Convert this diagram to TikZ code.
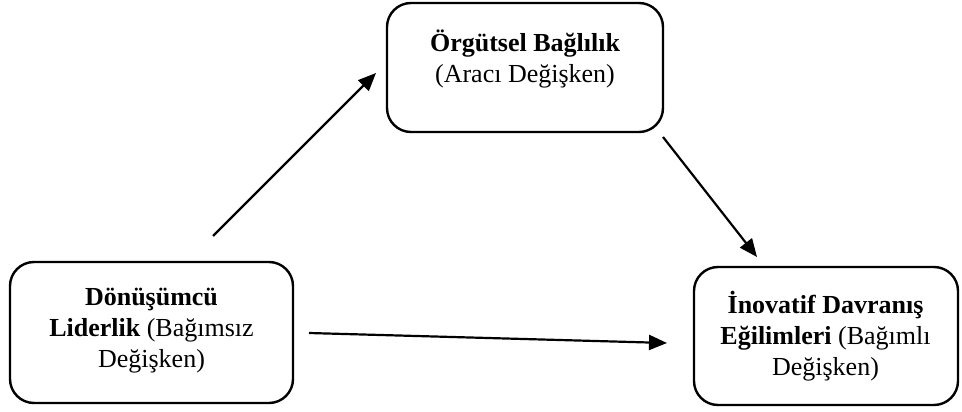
\documentclass[tikz,border=0pt]{standalone}
\usepackage{fontspec}
\setmainfont{Liberation Serif}
\usetikzlibrary{arrows.meta}
\begin{document}
\begin{tikzpicture}[x=1pt,y=-1pt,
  box/.style={draw,line width=2.4pt,rounded corners=24pt,inner sep=0pt},
  lbl/.style={align=center,inner sep=0pt,anchor=base,font=\fontsize{26}{31}\selectfont},
  conn/.style={line width=2.2pt,-{Triangle[length=18pt,width=15pt]}}]
\useasboundingbox (0,0) rectangle (962,412);
% boxes
\node[box,minimum width=276pt,minimum height=129pt] (top) at (525,67.5) {};
\node[box,minimum width=283pt,minimum height=141pt] (left) at (151.5,332.5) {};
\node[box,minimum width=264pt,minimum height=138pt] (right) at (826,336) {};
% texts (anchored at the baseline of the last line)
\node[lbl] (toptext) at (525,82)
  {\textbf{Örgütsel Bağlılık}\\(Aracı Değişken)};
\node[lbl] (lefttext) at (151.5,367)
  {\textbf{Dönüşümcü}\\\textbf{Liderlik} (Bağımsız\\Değişken)};
\node[lbl] (righttext) at (825.5,375)
  {\textbf{İnovatif Davranış}\\\textbf{Eğilimleri} (Bağımlı\\Değişken)};
% connector ends
\coordinate (a1s) at (213,236);
\coordinate (a1e) at (376,73);
\coordinate (a2s) at (663,137);
\coordinate (a2e) at (757,257);
\coordinate (a3s) at (309,333);
\coordinate (a3e) at (667,343);
\draw[conn] (a1s) -- (a1e);
\draw[conn] (a2s) -- (a2e);
\draw[conn] (a3s) -- (a3e);
\end{tikzpicture}
\end{document}
